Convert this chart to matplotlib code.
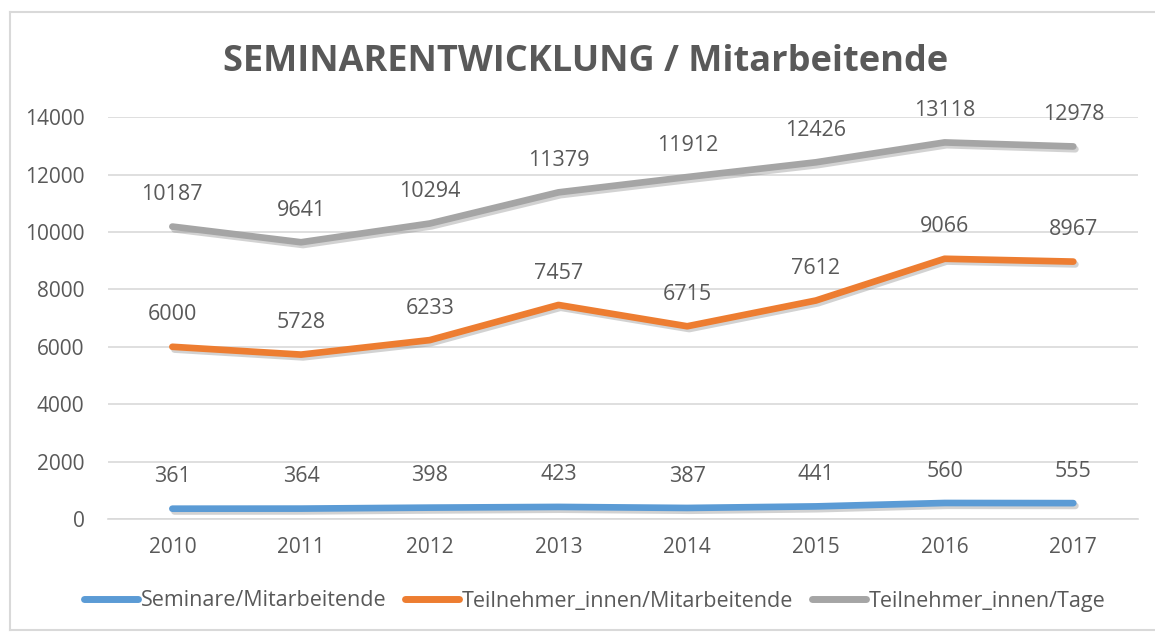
import numpy as np
import matplotlib.pyplot as plt
import matplotlib.patheffects as pe
from matplotlib.lines import Line2D

plt.rcParams['font.family'] = ['Open Sans', 'DejaVu Sans']

years = ["2010", "2011", "2012", "2013", "2014", "2015", "2016", "2017"]
seminare = [361, 364, 398, 423, 387, 441, 560, 555]
teilnehmer_ma = [6000, 5728, 6233, 7457, 6715, 7612, 9066, 8967]
teilnehmer_tage = [10187, 9641, 10294, 11379, 11912, 12426, 13118, 12978]

series = [
	("Seminare/Mitarbeitende", seminare, "#5B9BD5"),
	("Teilnehmer_innen/Mitarbeitende", teilnehmer_ma, "#ED7D31"),
	("Teilnehmer_innen/Tage", teilnehmer_tage, "#A5A5A5"),
]

TEXT = "#595959"
GRID = "#D9D9D9"

fig = plt.figure(figsize=(11.55, 6.33), dpi=100)
ax = fig.add_axes([0.0935, 0.180, 0.8915, 0.635])

# light frame around the chart area (Excel style)
fx, ft, fb = 10 / 1155, 1 - 12 / 633, 1 - 630 / 633
fig.add_artist(Line2D([fx, fx], [ft, fb], transform=fig.transFigure, color=GRID, lw=1.5))
fig.add_artist(Line2D([fx, 1.0], [ft, ft], transform=fig.transFigure, color=GRID, lw=1.5))
fig.add_artist(Line2D([fx, 1.0], [fb, fb], transform=fig.transFigure, color=GRID, lw=1.5))

x = np.arange(len(years))
shadow = [pe.SimpleLineShadow(offset=(1.5, -2), shadow_color="#808080", alpha=0.35), pe.Normal()]

for label, vals, color in series:
	ax.plot(x, vals, color=color, lw=4.8, solid_capstyle="round", solid_joinstyle="round",
		label=label, path_effects=shadow)
	for xi, v in zip(x, vals):
		ax.annotate(str(v), (xi, v), xytext=(0, 23), textcoords="offset points",
			ha="center", va="center", fontsize=15.5, color=TEXT)

ax.set_xlim(-0.5, len(years) - 0.5)
ax.set_ylim(0, 14000)
ax.set_yticks(np.arange(0, 14001, 2000))
ax.set_xticks(x)
ax.set_xticklabels(years)
ax.tick_params(axis="both", length=0, labelsize=15, labelcolor=TEXT)
ax.tick_params(axis="x", pad=13)
ax.tick_params(axis="y", pad=17)
ax.grid(axis="y", color=GRID, lw=1.2)
ax.set_axisbelow(True)
for s in ["top", "right", "left"]:
	ax.spines[s].set_visible(False)
ax.spines["bottom"].set_color(GRID)
ax.spines["bottom"].set_linewidth(1.2)

fig.text(0.507, 0.902, "SEMINARENTWICKLUNG / Mitarbeitende", ha="center", va="center",
	fontsize=26, fontweight="bold", color=TEXT)

leg = ax.legend(loc="center", bbox_to_anchor=(0.515, 1 - 601 / 633), bbox_transform=fig.transFigure,
	ncol=3, frameon=False, fontsize=15.5, handlelength=2.5, handletextpad=0.15, columnspacing=0.85)
for t in leg.get_texts():
	t.set_color(TEXT)
for h in leg.legend_handles:
	h.set_linewidth(5)
	h.set_path_effects([])

fig.savefig("out.png", dpi=100)
